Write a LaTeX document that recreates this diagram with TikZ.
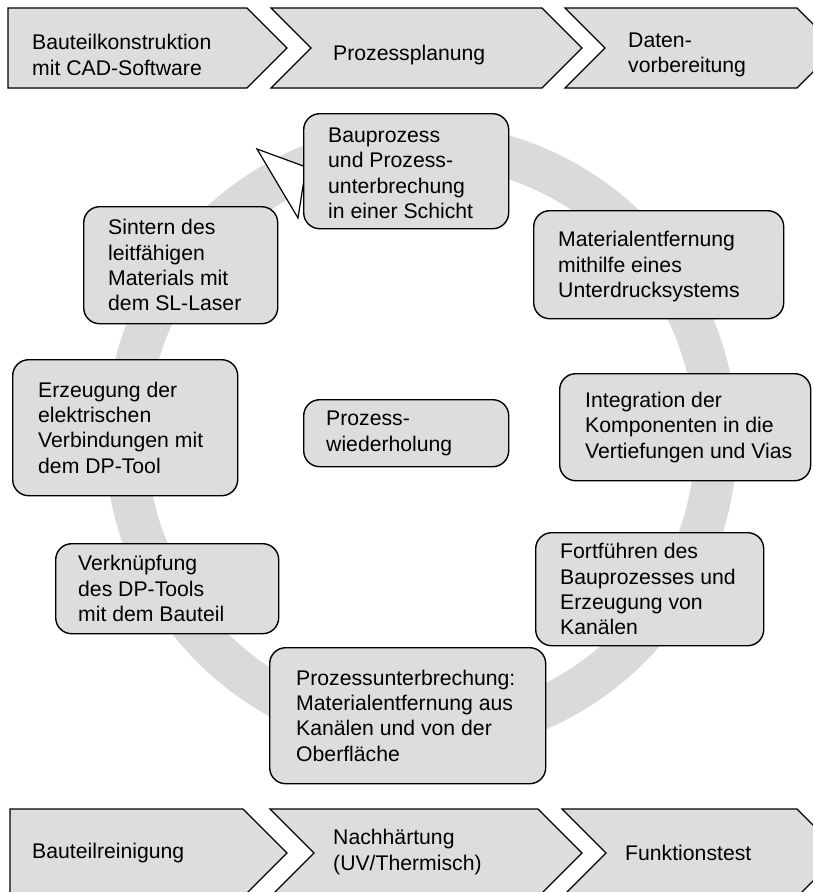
\documentclass[tikz,border=0pt]{standalone}
\usepackage{fontspec}
\setmainfont{Liberation Sans}
\definecolor{boxfill}{RGB}{221,221,221}
\definecolor{ringfill}{RGB}{218,218,218}
\begin{document}
\begin{tikzpicture}[x=1pt,y=-1pt,
  chev/.style={fill=boxfill, draw=black, line width=1.2pt, line join=miter},
  rbox/.style={fill=boxfill, draw=black, line width=1.4pt, rounded corners=16pt,
    inner sep=0pt, anchor=north west, rectangle},
  lbl/.style={align=left, inner sep=0pt, anchor=west,
    font=\fontsize{21.2}{25.4}\selectfont}]
\useasboundingbox (0,0) rectangle (813,892);
\clip (0,0) rectangle (813,892);
% ring
\fill[ringfill, even odd rule] (421,439) circle[radius=316pt] (421,439) circle[radius=274pt];
% arrow head
\draw[fill=white, line width=1.2pt, line join=miter] (257,149) -- (298,218) -- (306,167) -- cycle;
% top chevrons
\draw[chev] (8,8) -- (247,8) -- (287,48) -- (247,88) -- (8,88) -- cycle;
\draw[chev] (271,8) -- (542,8) -- (582,48) -- (542,88) -- (271,88) -- (311,48) -- cycle;
\draw[chev] (565,8) -- (797,8) -- (837,48) -- (797,88) -- (565,88) -- (605,48) -- cycle;
\node[lbl] (c1) at (32,55) {Bauteilkonstruktion\\mit CAD-Software};
\node[lbl] (c2) at (333,55) {Prozessplanung};
\node[lbl] (c3) at (628,55) {Daten-\\vorbereitung};
% bottom chevrons
\draw[chev] (10,809) -- (243,809) -- (287,853) -- (243,897) -- (10,897) -- cycle;
\draw[chev] (270,809) -- (538,809) -- (582,853) -- (538,897) -- (270,897) -- (314,853) -- cycle;
\draw[chev] (562,809) -- (797,809) -- (841,853) -- (797,897) -- (562,897) -- (606,853) -- cycle;
\node[lbl] (d1) at (32,853) {Bauteilreinigung};
\node[lbl] (d2) at (333,852) {Nachhärtung\\(UV/Thermisch)};
\node[lbl] (d3) at (625,853) {Funktionstest};
% boxes
\node[rbox, minimum width=205pt, minimum height=115pt] (b1) at (303,113) {};
\node[lbl] (t1) at ([xshift=25pt,yshift=-2pt]b1.west) {Bauprozess\\und Prozess-\\unterbrechung\\in einer Schicht};
\node[rbox, minimum width=194pt, minimum height=117pt] (b2) at (83,206) {};
\node[lbl] (t2) at ([xshift=25pt]b2.west) {Sintern des\\leitfähigen\\Materials mit\\dem SL-Laser};
\node[rbox, minimum width=250pt, minimum height=108pt] (b3) at (533,210) {};
\node[lbl] (t3) at ([xshift=25pt,yshift=-2pt]b3.west) {Materialentfernung\\mithilfe eines\\Unterdrucksystems};
\node[rbox, minimum width=225pt, minimum height=136pt] (b4) at (12,359) {};
\node[lbl] (t4) at ([xshift=26pt]b4.west) {Erzeugung der\\elektrischen\\Verbindungen mit\\dem DP-Tool};
\node[rbox, minimum width=205pt, minimum height=67pt] (b5) at (303,399) {};
\node[lbl] (t5) at ([xshift=23pt]b5.west) {Prozess-\\wiederholung};
\node[rbox, minimum width=251pt, minimum height=107pt] (b6) at (559,373) {};
\node[lbl] (t6) at ([xshift=26pt]b6.west) {Integration der\\Komponenten in die\\Vertiefungen und Vias};
\node[rbox, minimum width=228pt, minimum height=113pt] (b7) at (535,532) {};
\node[lbl] (t7) at ([xshift=25pt]b7.west) {Fortführen des\\Bauprozesses und\\Erzeugung von\\Kanälen};
\node[rbox, minimum width=223pt, minimum height=90pt] (b8) at (55,543) {};
\node[lbl] (t8) at ([xshift=23pt]b8.west) {Verknüpfung\\des DP-Tools\\mit dem Bauteil};
\node[rbox, minimum width=276pt, minimum height=136pt] (b9) at (269,647) {};
\node[lbl] (t9) at ([xshift=27pt]b9.west) {Prozessunterbrechung:\\Materialentfernung aus\\Kanälen und von der\\Oberfläche};
\end{tikzpicture}
\end{document}
